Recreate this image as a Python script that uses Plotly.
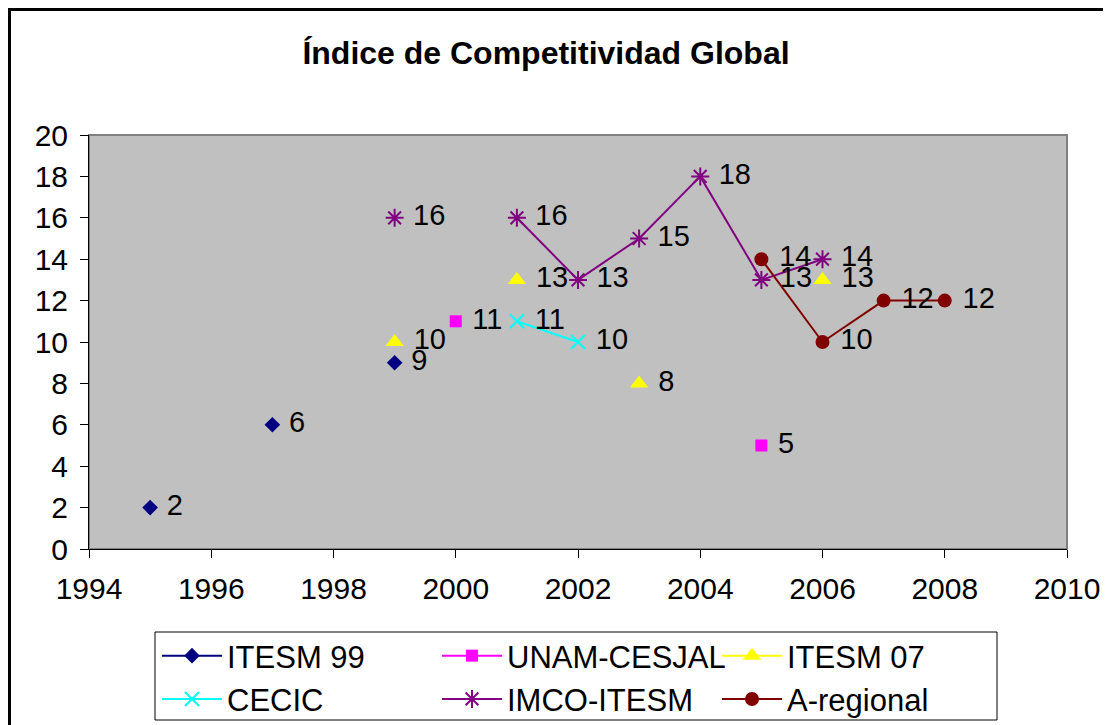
import plotly.graph_objects as go

years = [1995, 1996, 1997, 1998, 1999, 2000, 2001, 2002, 2003, 2004, 2005, 2006, 2007, 2008]
itesm99 = [2, None, 6, None, 9, None, None, None, None, None, None, None, None, None]
unam = [None, None, None, None, None, 11, None, None, None, None, 5, None, None, None]
itesm07 = [None, None, None, None, 10, None, 13, None, 8, None, None, 13, None, None]
cecic = [None, None, None, None, None, None, 11, 10, None, None, None, None, None, None]
imco = [None, None, None, None, 16, None, 16, 13, 15, 18, 13, 14, None, None]
aregional = [None, None, None, None, None, None, None, None, None, None, 14, 10, 12, 12]

series_names = ["ITESM 99", "UNAM-CESJAL", "ITESM 07", "CECIC", "IMCO-ITESM", "A-regional"]
series_values = [itesm99, unam, itesm07, cecic, imco, aregional]
colors = ["#000080", "#FF00FF", "#FFFF00", "#00FFFF", "#800080", "#800000"]
symbols = ["diamond", "square", "triangle-up", "x-thin-open", "asterisk-open", "circle"]
sizes = [12, 12, 16, 14, 15, 14]

FONT = "Liberation Sans, Arial, sans-serif"

# page body has an 8px margin: figure coordinates = screen - 8
W, H = 1103, 717
L, R, T, B = 81, 44, 127, 176
PW, PH = W - L - R, H - T - B


def px_x(fx):
    return (fx - L) / PW


def px_y(fy):
    return (T + PH - fy) / PH


fig = go.Figure()
for name, vals, col, sym, sz in zip(series_names, series_values, colors, symbols, sizes):
    open_sym = sym.endswith("open")
    fig.add_trace(go.Scatter(
        x=years, y=vals, name=name,
        mode="lines+markers+text",
        connectgaps=False,
        line=dict(color=col, width=2),
        marker=dict(symbol=sym, size=sz, color=col,
                    line=dict(color=col, width=2 if open_sym else 0)),
        texttemplate="\u00a0%{y}",
        textposition="middle right",
        textfont=dict(family=FONT, size=29, color="black"),
        cliponaxis=False,
    ))

# plot area border (gray)
fig.add_shape(type="rect", xref="paper", yref="paper", x0=0, y0=0, x1=1, y1=1,
              line=dict(color="#808080", width=2), layer="below")
# outer chart border (cropped at right/bottom in reference)
fig.add_shape(type="rect", xref="paper", yref="paper",
              x0=px_x(1.5), y0=-0.6, x1=1.2, y1=px_y(1.5),
              line=dict(color="black", width=3), layer="below")
# legend frame
fig.add_shape(type="rect", xref="paper", yref="paper",
              x0=px_x(147), y0=px_y(712), x1=px_x(989), y1=px_y(624),
              line=dict(color="black", width=1), fillcolor="white", layer="below")

fig.update_layout(
    width=W, height=H,
    margin=dict(l=L, r=R, t=T, b=B),
    paper_bgcolor="white",
    plot_bgcolor="#C0C0C0",
    font=dict(family=FONT, color="black"),
    title=dict(text="<b>Índice de Competitividad Global</b>",
               x=538 / W, xanchor="center", y=1 - 45 / H, yanchor="middle",
               font=dict(family=FONT, size=32, color="black")),
    showlegend=True,
    legend=dict(orientation="h", xref="paper", x=px_x(149), xanchor="left",
                yref="container", y=1 - 621 / H, yanchor="top",
                entrywidth=205, entrywidthmode="pixels",
                itemwidth=60,
                borderwidth=0, bgcolor="rgba(0,0,0,0)",
                font=dict(family=FONT, size=31, color="black"),
                traceorder="normal"),
    xaxis=dict(range=[1994, 2010], dtick=2, tick0=1994, showgrid=False, zeroline=False,
               showline=True, linecolor="black", linewidth=1,
               ticks="outside", ticklen=8, tickcolor="black", ticklabelstandoff=5,
               tickfont=dict(family=FONT, size=30, color="black")),
    yaxis=dict(range=[0, 20], dtick=2, showgrid=False, zeroline=False,
               showline=True, linecolor="black", linewidth=1,
               ticks="outside", ticklen=8, tickcolor="black", ticklabelstandoff=6,
               tickfont=dict(family=FONT, size=30, color="black")),
)

fig.write_html("out.html")
